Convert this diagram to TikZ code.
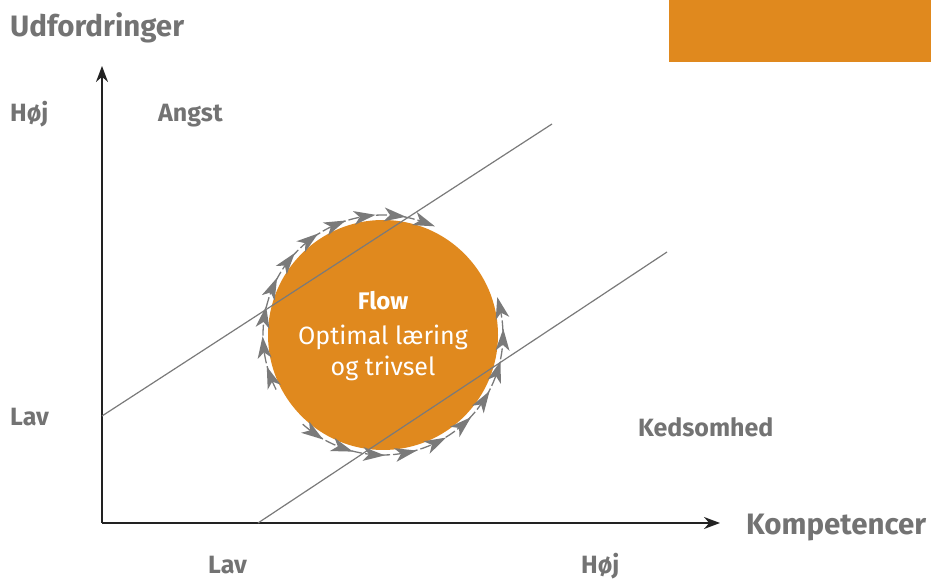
\documentclass[tikz,border=0pt]{standalone}
\usepackage{fontspec}
\setmainfont{Fira Sans}
\usetikzlibrary{arrows.meta,decorations.markings}
\definecolor{flowor}{HTML}{E0891E}
\definecolor{txtgray}{HTML}{737373}
\definecolor{lngray}{HTML}{7A7A7A}
\definecolor{axisc}{HTML}{222222}
\tikzset{
  lbl/.style={anchor=base west, inner sep=0pt, text=txtgray, font=\fontsize{25}{28}\selectfont\bfseries},
  biglbl/.style={lbl, font=\fontsize{29.5}{32}\selectfont\bfseries},
  axisline/.style={draw=axisc, line width=1.8pt, -{Stealth[length=16pt,width=12pt]}},
  diag/.style={draw=lngray, line width=1.2pt},
  ring/.style={draw=lngray, line width=1.3pt, dash pattern=on 11pt off 3pt,
    postaction={decorate},
    decoration={markings, mark=between positions 0.05 and 1 step 0.103 with {\fill[lngray] (-12pt,7pt) -- (10pt,0pt) -- (-12pt,-7pt) -- (-6pt,0pt) -- cycle;}}},
  intext/.style={text=white, inner sep=0pt, anchor=base}
}
\begin{document}
\begin{tikzpicture}[x=1pt,y=1pt]
\useasboundingbox (0,0) rectangle (931,578);
% orange box top right
\fill[flowor] (669,516) rectangle (931,578);
% axes
\coordinate (O) at (102,55);
\coordinate (Ytip) at (102,512);
\coordinate (Xtip) at (720,55);
\draw[axisline] (O) -- (Ytip);
\draw[axisline] (O) -- (Xtip);
% flow circle
\coordinate (C) at (383,243);
\fill[flowor] (C) circle[radius=115];
% diagonal lines
\coordinate (L1a) at (102,162);
\coordinate (L1b) at (552,454);
\coordinate (L2a) at (258,55);
\coordinate (L2b) at (667,326);
\draw[diag] (L1a) -- (L1b);
\draw[diag] (L2a) -- (L2b);
% arrow rings
\draw[ring] ([shift={(207:120)}]C) arc[start angle=207, end angle=66, radius=120];
\draw[ring] ([shift={(228:120)}]C) arc[start angle=228, end angle=377, radius=120];
% circle text
\node[intext, font=\fontsize{24}{27}\selectfont\bfseries] (flow) at (383,268) {Flow};
\node[intext, font=\fontsize{25}{28}\selectfont] (opt) at (383,233) {Optimal læring};
\node[intext, font=\fontsize{25}{28}\selectfont] (triv) at (383,202) {og trivsel};
% labels
\node[biglbl] (udf) at (10,541) {Udfordringer};
\node[lbl] (hojy) at (10,456) {Høj};
\node[lbl] (angst) at (158,456) {Angst};
\node[lbl] (lavy) at (10,152) {Lav};
\node[lbl] (keds) at (638,141) {Kedsomhed};
\node[biglbl] (komp) at (746,43) {Kompetencer};
\node[lbl] (lavx) at (208,5) {Lav};
\node[lbl] (hojx) at (581,5) {Høj};
\end{tikzpicture}
\end{document}
